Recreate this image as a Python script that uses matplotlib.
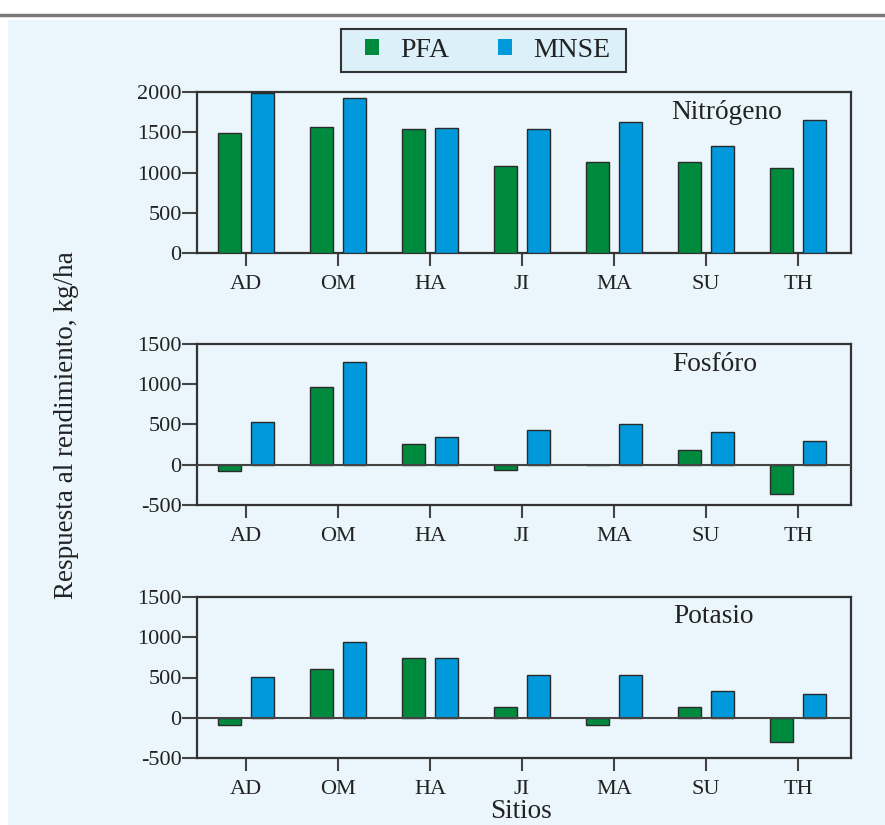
import matplotlib
matplotlib.use("Agg")
import matplotlib.pyplot as plt
from matplotlib.patches import Patch, Rectangle
from matplotlib.lines import Line2D
import numpy as np

plt.rcParams['font.family'] = ['Liberation Serif', 'DejaVu Serif']

sitios = ["AD", "OM", "HA", "JI", "MA", "SU", "TH"]
nitro_pfa = [1490, 1570, 1540, 1085, 1135, 1135, 1055]
nitro_mnse = [1985, 1920, 1550, 1545, 1625, 1335, 1650]
fosf_pfa = [-80, 970, 260, -70, 0, 180, -365]
fosf_mnse = [530, 1275, 343, 434, 504, 409, 293]
pota_pfa = [-95, 610, 745, 132, -90, 132, -297]
pota_mnse = [503, 940, 746, 536, 536, 338, 300]
titles = ["Nitrógeno", "Fosfóro", "Potasio"]

W, H = 885, 825
fig = plt.figure(figsize=(W / 100, H / 100), dpi=100, facecolor='white')
bg = '#eaf6fc'
fig.patches.append(Rectangle((8 / W, 0), 1 - 8 / W, (H - 20) / H, transform=fig.transFigure,
                             facecolor=bg, edgecolor='none', zorder=-10))
fig.lines.append(Line2D([0, 1], [1 - 15 / H, 1 - 15 / H], transform=fig.transFigure,
                        color='#7a7a7a', lw=2.5, zorder=-5))
# legend frame
fig.patches.append(Rectangle((341 / W, 1 - 72 / H), 285 / W, 43 / H, transform=fig.transFigure,
                             facecolor='#dcf0fa', edgecolor='#333333', linewidth=1.5, zorder=-4))

green = '#008a3e'
blue = '#0099db'
edge = '#2a2a2a'
spine_c = '#333333'

panels = [
    (nitro_pfa, nitro_mnse, (0, 2000), [0, 500, 1000, 1500, 2000], 92, (0.81, 0.832)),
    (fosf_pfa, fosf_mnse, (-500, 1500), [-500, 0, 500, 1000, 1500], 344, (0.792, 0.834)),
    (pota_pfa, pota_mnse, (-500, 1500), [-500, 0, 500, 1000, 1500], 597, (0.789, 0.836)),
]

x = np.arange(len(sitios))
left, right = 197, 851
for (pfa, mnse, ylim, yt, top, tpos), title in zip(panels, titles):
    ax = fig.add_axes([left / W, 1 - (top + 161) / H, (right - left) / W, 161 / H])
    ax.set_facecolor('none')
    ax.bar(x - 0.175, pfa, width=0.25, color=green, edgecolor=edge, linewidth=1.0, zorder=3)
    ax.bar(x + 0.175, mnse, width=0.25, color=blue, edgecolor=edge, linewidth=1.0, zorder=3)
    ax.set_xlim(-0.533, 6.576)
    ax.set_ylim(*ylim)
    ax.set_yticks(yt)
    ax.set_yticklabels([str(v) for v in yt])
    ax.set_xticks(x)
    ax.set_xticklabels(sitios)
    if ylim[0] < 0:
        ax.axhline(0, color='#444444', lw=1.5, zorder=4)
    for s in ax.spines.values():
        s.set_color(spine_c)
        s.set_linewidth(1.6)
    ax.tick_params(axis='x', length=9, width=1.5, color='#444444', labelsize=16, pad=6.5,
                   labelcolor='#222222')
    ax.tick_params(axis='y', length=11, width=1.5, color='#444444', labelsize=16, pad=0,
                   labelcolor='#222222')
    ax.text(tpos[0], tpos[1], title, transform=ax.transAxes, ha='center', va='baseline',
            fontsize=19.7, color='#222222')

fig.text(67 / W, 1 - 425 / H, "Respuesta al rendimiento, kg/ha", rotation=90,
         ha='center', va='center', fontsize=19.5, color='#222222')
fig.text(521 / W, 1 - 811 / H, "Sitios", ha='center', va='center', fontsize=19.5,
         color='#222222')

handles = [Patch(facecolor=green, edgecolor='none'), Patch(facecolor=blue, edgecolor='none')]
leg = fig.legend(handles, ["PFA", "MNSE"], loc='center', bbox_to_anchor=(487.5 / W, 1 - 50.5 / H),
                 ncol=2, fontsize=20, frameon=False, handlelength=0.5, handleheight=0.5,
                 handletextpad=0.75, columnspacing=1.77, borderpad=0.0)
for t in leg.get_texts():
    t.set_color('#222222')

fig.savefig("out.png", dpi=100, facecolor=fig.get_facecolor())
